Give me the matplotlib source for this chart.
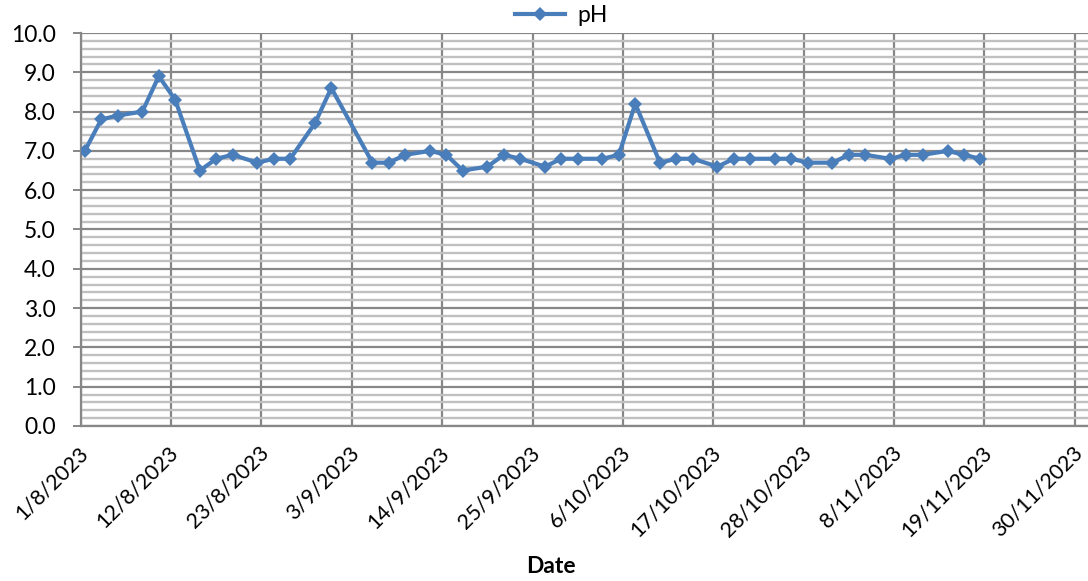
import matplotlib
matplotlib.use("Agg")
import matplotlib.pyplot as plt
import matplotlib.dates as mdates
import matplotlib.transforms as mtransforms
import numpy as np
import pandas as pd
from matplotlib.ticker import FuncFormatter, MultipleLocator

# pH readings
dates = ["2023-08-01", "2023-08-03", "2023-08-05", "2023-08-08", "2023-08-10",
         "2023-08-12", "2023-08-15", "2023-08-17", "2023-08-19", "2023-08-22",
         "2023-08-24", "2023-08-26", "2023-08-29", "2023-08-31", "2023-09-05",
         "2023-09-07", "2023-09-09", "2023-09-12", "2023-09-14", "2023-09-16",
         "2023-09-19", "2023-09-21", "2023-09-23", "2023-09-26", "2023-09-28",
         "2023-09-30", "2023-10-03", "2023-10-05", "2023-10-07", "2023-10-10",
         "2023-10-12", "2023-10-14", "2023-10-17", "2023-10-19", "2023-10-21",
         "2023-10-24", "2023-10-26", "2023-10-28", "2023-10-31", "2023-11-02",
         "2023-11-04", "2023-11-07", "2023-11-09", "2023-11-11", "2023-11-14",
         "2023-11-16", "2023-11-18"]
ph = [7.0, 7.8, 7.9, 8.0, 8.9, 8.3, 6.5, 6.8, 6.9, 6.7,
      6.8, 6.8, 7.7, 8.6, 6.7, 6.7, 6.9, 7.0, 6.9, 6.5,
      6.6, 6.9, 6.8, 6.6, 6.8, 6.8, 6.8, 6.9, 8.2, 6.7,
      6.8, 6.8, 6.6, 6.8, 6.8, 6.8, 6.8, 6.7, 6.7, 6.9,
      6.9, 6.8, 6.9, 6.9, 7.0, 6.9, 6.8]
tick_dates = pd.date_range("2023-08-01", "2023-11-30", freq="11D")

BLUE = "#4a7ebb"
FS = 16.5
plt.rcParams["font.family"] = ["Lato", "DejaVu Sans"]

fig = plt.figure(figsize=(10.88, 5.81), dpi=100)
ax = fig.add_axes([0.0742, 0.2668, 0.9258, 0.6764])

# excel puts each point in the middle of its day
x = pd.to_datetime(dates) + pd.Timedelta(hours=12)
ax.plot(x, ph, color=BLUE, lw=3.0, marker="D", ms=7.2, mew=0, label="pH", zorder=3)

start = mdates.date2num(pd.Timestamp("2023-08-01"))
ax.set_xlim(start, start + 122.6)
ax.set_ylim(0, 10)

ax.set_xticks(mdates.date2num(tick_dates))
ax.xaxis.set_major_formatter(FuncFormatter(
    lambda v, pos: (lambda d: f"{d.day}/{d.month}/{d.year}")(mdates.num2date(v))))
ax.yaxis.set_major_locator(MultipleLocator(1))
ax.yaxis.set_minor_locator(MultipleLocator(0.2))
ax.yaxis.set_major_formatter(FuncFormatter(lambda v, pos: f"{v:.1f}"))

ax.grid(which="minor", axis="y", color="#c0c0c0", lw=1.7, zorder=0)
ax.grid(which="major", axis="both", color="#878787", lw=1.6, zorder=1)
ax.tick_params(axis="y", which="major", length=6, width=1.4, color="#878787",
               labelsize=FS, pad=12)
ax.tick_params(axis="y", which="minor", length=0)
ax.tick_params(axis="x", length=0, labelsize=15.5, pad=17)
shift = mtransforms.ScaledTranslation(3 / 72, 0, fig.dpi_scale_trans)
for lbl in ax.get_xticklabels():
    lbl.set_rotation(45)
    lbl.set_ha("right")
    lbl.set_va("center")
    lbl.set_rotation_mode("anchor")
    lbl.set_transform(lbl.get_transform() + shift)

for side in ["top", "right"]:
    ax.spines[side].set_visible(False)
for side in ["left", "bottom"]:
    ax.spines[side].set_color("#878787")
    ax.spines[side].set_linewidth(1.6)

ax.set_xlabel("Date", fontsize=FS, fontweight="bold")
ax.xaxis.set_label_coords(0.4665, -0.33)

ax.legend(loc="lower center", bbox_to_anchor=(0.477, 0.995), frameon=False,
          fontsize=FS, handlelength=2.2, borderaxespad=0, handletextpad=0.5)

fig.savefig("out.png", dpi=100)
